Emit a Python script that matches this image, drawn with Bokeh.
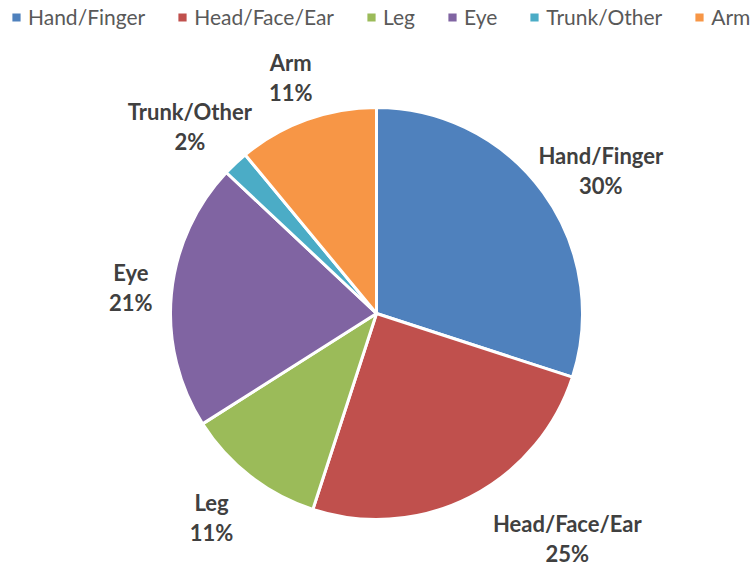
import math
from bokeh.plotting import figure
from bokeh.models import ColumnDataSource, Range1d, Legend, LegendItem
from bokeh.core.properties import value
from bokeh.embed import file_html
from bokeh.resources import INLINE

categories = ["Hand/Finger", "Head/Face/Ear", "Leg", "Eye", "Trunk/Other", "Arm"]
shares = [30, 25, 11, 21, 2, 11]
colors = ["#4F81BD", "#C0504D", "#9BBB59", "#8064A2", "#4BACC6", "#F79646"]

# layout of data labels (distance from centre, angle shift from slice middle in degrees)
label_dist = [266, 295, 262, 247, 264, 251]
label_shift = [-3.5, 13.3, -1.2, -0.6, 1.8, 0.2]

W, H = 754, 566
CX, CY, R = 376, 253, 206

total = float(sum(shares))
starts, ends, mids = [], [], []
cum = 0.0
for v in shares:
    a0 = math.pi / 2 - 2 * math.pi * cum / total
    cum += v
    a1 = math.pi / 2 - 2 * math.pi * cum / total
    starts.append(a0)
    ends.append(a1)
    mids.append((a0 + a1) / 2)

lx, ly = [], []
for m, d, s in zip(mids, label_dist, label_shift):
    a = m + math.radians(s)
    lx.append(CX + d * math.cos(a))
    ly.append(CY + d * math.sin(a))

src = ColumnDataSource(dict(
    cat=categories, start=starts, end=ends, color=colors,
    pct=[f"{v}%" for v in shares],
    lx=lx, ly_top=[y + 15 for y in ly], ly_bot=[y - 15 for y in ly],
))

p = figure(width=W, height=H, x_range=Range1d(0, W), y_range=Range1d(0, H),
           output_backend="svg", toolbar_location=None, min_border=0)
p.axis.visible = False
p.grid.visible = False
p.outline_line_color = None
p.background_fill_color = "white"
p.border_fill_color = "white"

r = p.wedge(x=CX, y=CY, radius=R, start_angle="start", end_angle="end",
            direction="clock", fill_color="color", line_color="white",
            line_width=3, source=src)

for col in ("ly_top", "ly_bot"):
    p.text(x="lx", y=col, text="cat" if col == "ly_top" else "pct", source=src,
           text_align="center", text_baseline="middle",
           text_font=value("Lato"), text_font_style="bold",
           text_font_size="22px", text_color="#404040")

items = [LegendItem(label=c, renderers=[r], index=i) for i, c in enumerate(categories)]
legend = Legend(items=items, orientation="horizontal", location=(9, 537),
                glyph_width=14, glyph_height=14, label_standoff=5, spacing=30,
                label_text_font="Lato", label_text_font_size="21px",
                label_text_color="#595959", padding=0, margin=0,
                border_line_color=None, background_fill_alpha=0,
                label_height=20)
p.add_layout(legend)

open("out.html", "w").write(file_html(p, INLINE))
